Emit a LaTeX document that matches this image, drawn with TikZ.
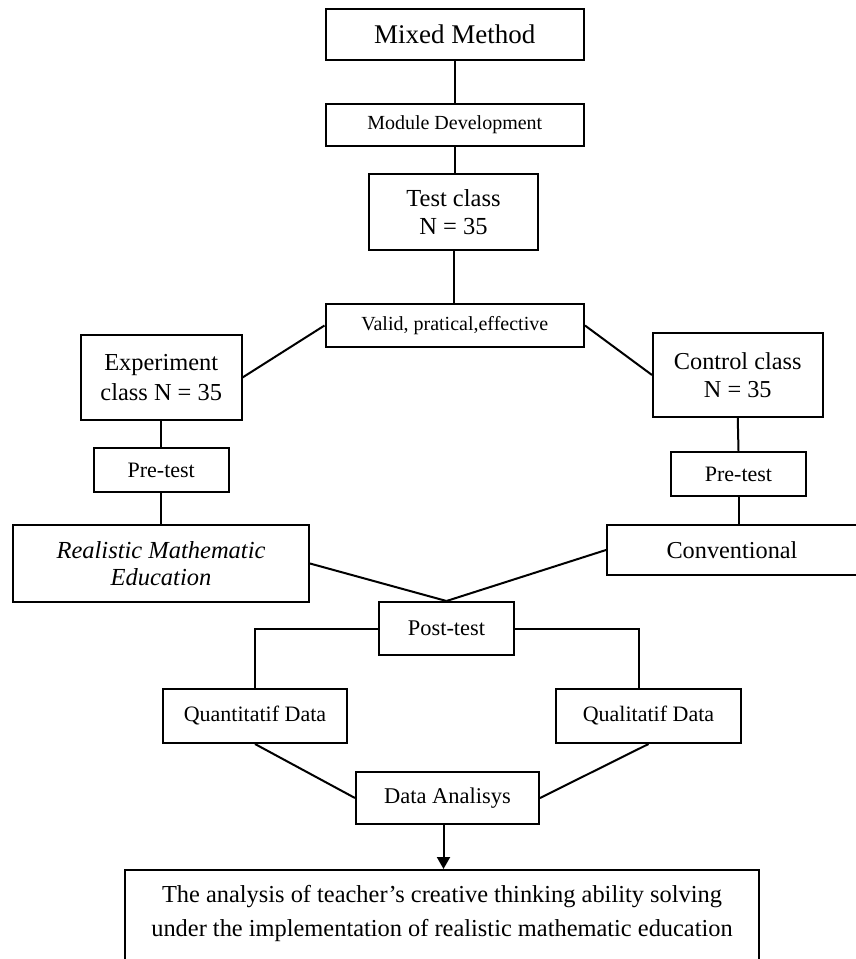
\documentclass[tikz,border=0pt]{standalone}
\usepackage{fontspec}
\setmainfont{Liberation Serif}
\usetikzlibrary{arrows.meta}
\begin{document}
\begin{tikzpicture}[x=1pt,y=-1pt,
  box/.style={draw=black, line width=2pt, inner sep=0pt, align=center, fill=white},
  conn/.style={line width=2pt, draw=black},
  arr/.style={conn, -{Triangle[length=12pt,width=13pt]}},
  ]
\useasboundingbox (0,0) rectangle (855,959);
\fill[white] (0,0) rectangle (855,959);
% nodes
\node[box, minimum width=258.5pt, minimum height=51pt, font={\fontsize{27}{32}\selectfont}] (mixed) at (454.75,34.5) {Mixed Method};
\node[box, minimum width=258.5pt, minimum height=42pt, font={\fontsize{20}{24}\selectfont}] (module) at (454.75,125) {Module Development};
\node[box, minimum width=169pt, minimum height=76pt, font={\fontsize{24.5}{28}\selectfont}] (test) at (453.5,212) {Test class\\N = 35};
\node[box, minimum width=258.5pt, minimum height=43pt, font={\fontsize{20}{24}\selectfont}] (valid) at (454.75,325.5) {Valid, pratical,effective};
\node[box, minimum width=160.5pt, minimum height=85pt, font={\fontsize{24.4}{30}\selectfont}] (exp) at (161.25,377.5) {Experiment\\class N = 35};
\node[box, minimum width=169.5pt, minimum height=84pt, font={\fontsize{24.3}{28}\selectfont}] (ctrl) at (737.75,375) {Control class\\N = 35};
\node[box, minimum width=134.5pt, minimum height=44.5pt, font={\fontsize{22}{26}\selectfont}] (pre1) at (161.25,470) {Pre-test};
\node[box, minimum width=135pt, minimum height=44.5pt, font={\fontsize{22}{26}\selectfont}] (pre2) at (738.5,474) {Pre-test};
\node[box, minimum width=296pt, minimum height=77pt, font={\fontsize{24.5}{27}\selectfont\itshape}] (rme) at (161,563.5) {Realistic Mathematic\\Education};
\node[box, minimum width=250pt, minimum height=50pt, font={\fontsize{24.3}{28}\selectfont}] (conv) at (732,550) {Conventional};
\node[box, minimum width=135pt, minimum height=53pt, font={\fontsize{22.4}{26}\selectfont}] (post) at (446.5,628.5) {Post-test};
\node[box, minimum width=184pt, minimum height=54pt, font={\fontsize{22}{26}\selectfont}] (quant) at (255,716) {Quantitatif Data};
\node[box, minimum width=185pt, minimum height=54pt, font={\fontsize{22}{26}\selectfont}] (qual) at (648.5,716) {Qualitatif Data};
\node[box, minimum width=183pt, minimum height=52pt, font={\fontsize{22.5}{26}\selectfont}] (da) at (447.5,798) {Data Analisys};
\node[box, minimum width=634pt, minimum height=116pt, font={\fontsize{24.4}{34}\selectfont}] (final) at (442,928) {The analysis of teacher’s creative thinking ability solving\\under the implementation of realistic mathematic education\\\mbox{}};
% connectors
\draw[conn] (mixed.south) -- (mixed.south |- module.north);
\draw[conn] (module.south) -- (module.south |- test.north);
\draw[conn] (test.south) -- (test.south |- valid.north);
\draw[conn] (valid.west) -- (exp.east);
\draw[conn] (valid.east) -- (ctrl.west);
\draw[conn] (exp.south) -- (pre1.north);
\draw[conn] (pre1.south) -- (pre1.south |- rme.north);
\draw[conn] (ctrl.south) -- (pre2.north);
\draw[conn] (pre2.south) -- (pre2.south |- conv.north);
\draw[conn] (rme.east) -- (post.north);
\draw[conn] (conv.west) -- (post.north);
\draw[conn] (post.west) -| (quant.north);
\draw[conn] (post.east) -| ([xshift=-9.5pt]qual.north);
\draw[conn] (quant.south) -- (da.west);
\draw[conn] (qual.south) -- (da.east);
\draw[arr] ([xshift=-4pt]da.south) -- ([xshift=-4pt]da.south |- final.north);
\end{tikzpicture}
\end{document}
